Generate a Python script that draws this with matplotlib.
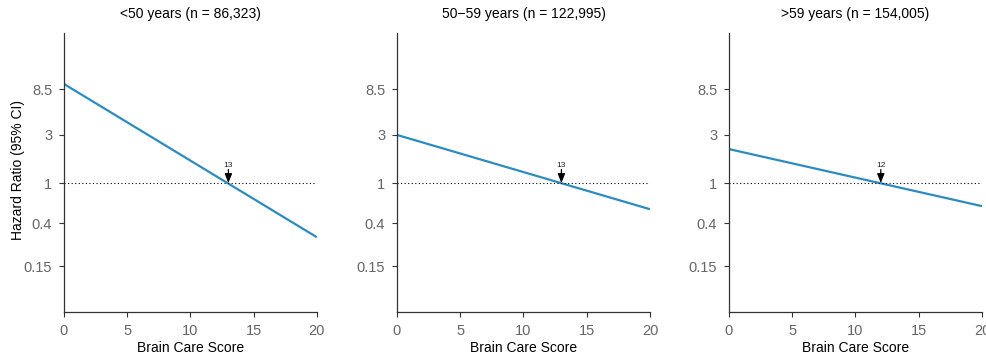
import matplotlib
matplotlib.use("Agg")
import matplotlib.pyplot as plt

plt.rcParams["font.family"] = ["Liberation Sans", "DejaVu Sans"]

# panel titles and curve values
titles = ["<50 years (n = 86,323)", "50\u221259 years (n = 122,995)", ">59 years (n = 154,005)"]
score = [0, 20]
hr_young = [9.6, 0.29]
hr_mid = [3.0, 0.55]
hr_old = [2.17, 0.59]
crossings = [13, 13, 12]
yticks = [0.15, 0.4, 1, 3, 8.5]
ytick_labels = ["0.15", "0.4", "1", "3", "8.5"]

series = [hr_young, hr_mid, hr_old]
lefts = [0.0648, 0.4022, 0.7386]

fig = plt.figure(figsize=(9.87, 3.54), dpi=100)

for i in range(3):
    ax = fig.add_axes([lefts[i], 0.1186, 0.2563, 0.788])
    ax.plot(score, series[i], color="#2c8bbf", lw=1.6, solid_capstyle="butt")
    ax.plot(score, [1, 1], color="black", lw=0.8, ls=(0, (1, 2.2)))
    ax.annotate("", xy=(crossings[i], 1.0), xytext=(crossings[i], 1.36),
                arrowprops=dict(arrowstyle="-|>,head_length=0.55,head_width=0.22",
                                color="black", lw=0.9, shrinkA=0, shrinkB=0))
    ax.text(crossings[i], 1.38, str(crossings[i]), ha="center", va="bottom",
            fontsize=6, color="#222222")
    ax.set_yscale("log")
    ax.set_ylim(0.0526, 30.7)
    ax.set_xlim(0, 20)
    ax.set_yticks(yticks)
    ax.set_yticklabels(ytick_labels)
    ax.minorticks_off()
    ax.set_xticks([0, 5, 10, 15, 20])
    for s in ["top", "right"]:
        ax.spines[s].set_visible(False)
    for s in ["left", "bottom"]:
        ax.spines[s].set_color("#333333")
        ax.spines[s].set_linewidth(0.9)
    ax.tick_params(axis="both", colors="#333333", labelcolor="#666666",
                   labelsize=10.5, length=3.5, width=0.8, pad=5)
    ax.set_title(titles[i], fontsize=10, pad=11)
    ax.set_xlabel("Brain Care Score", fontsize=10, labelpad=2)
    if i == 0:
        ax.set_ylabel("Hazard Ratio (95% CI)", fontsize=10, va="center")
        ax.yaxis.set_label_coords(-0.182, 0.51)

fig.savefig("out.png", dpi=100)
